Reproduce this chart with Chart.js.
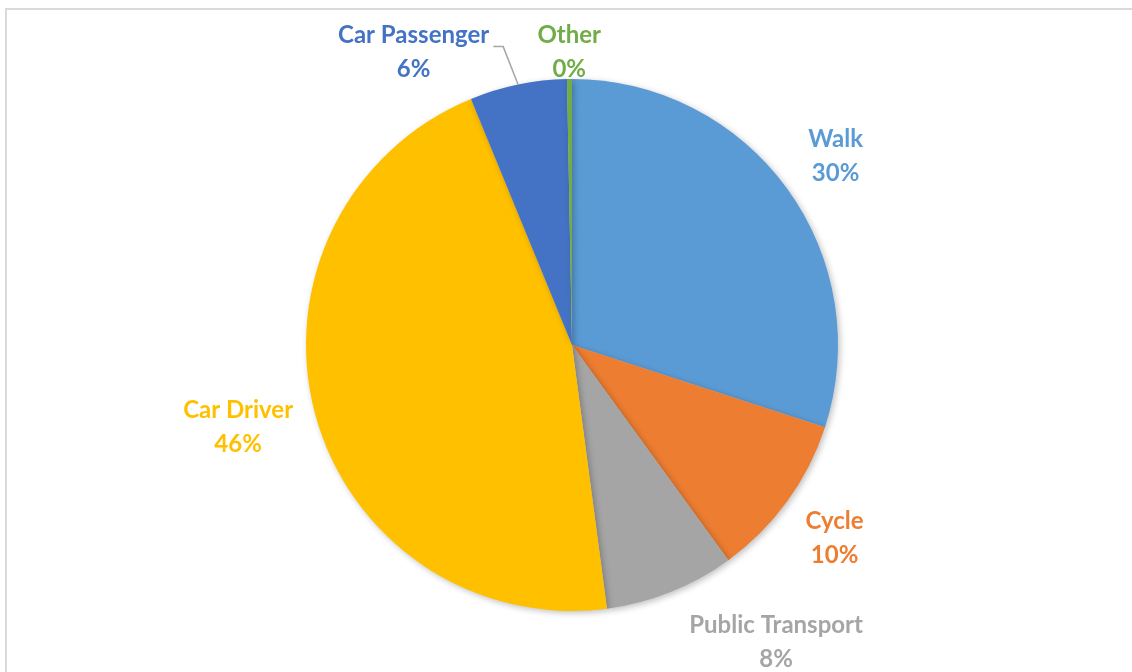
<!DOCTYPE html>
<html>
<head>
<meta charset="utf-8">
<script src="https://cdn.jsdelivr.net/npm/chart.js@4"></script>
<style>
  html, body { margin: 0; padding: 0; background: #fff; }
  #wrap { position: relative; width: 1132px; height: 672px; overflow: hidden; }
  #frame { position: absolute; left: 5px; top: 8px; width: 1140px; height: 680px; border: 2px solid #dadada; }
  #chart { position: absolute; left: 0; top: 0; }
</style>
</head>
<body>
<div id="wrap">
  <div id="frame"></div>
  <canvas id="chart" width="1132" height="672"></canvas>
</div>
<script>
// travel mode shares (percent)
const modes = ['Walk', 'Cycle', 'Public Transport', 'Car Driver', 'Car Passenger', 'Other'];
const shares = [30.0, 10.0, 7.9, 45.9, 5.9, 0.3];
const colours = ['#5B9BD5', '#ED7D31', '#A5A5A5', '#FFC000', '#4472C4', '#70AD47'];
const labelColours = ['#5B9BD5', '#ED7D31', '#A5A5A5', '#FFC000', '#4472C4', '#70AD47'];

// label placement: distance as fraction of radius, angle nudge in degrees
const labelDist = [1.225, 1.22, 1.345, 1.29, 1.26, 1.11];
const labelTurn = [0, 0, -13, 1.6, -16.5, 0];

const FONT = 'bold 24px Lato, "Open Sans", sans-serif';

const pieShadow = {
  id: 'pieShadow',
  beforeDatasetsDraw(chart) {
    const ctx = chart.ctx;
    ctx.save();
    ctx.shadowColor = 'rgba(0,0,0,0.25)';
    ctx.shadowBlur = 6;
    ctx.shadowOffsetX = 2;
    ctx.shadowOffsetY = 2;
  },
  afterDatasetsDraw(chart) {
    chart.ctx.restore();
  }
};

const sliceLabels = {
  id: 'sliceLabels',
  afterDatasetsDraw(chart) {
    const ctx = chart.ctx;
    const arcs = chart.getDatasetMeta(0).data;
    ctx.save();
    ctx.font = FONT;
    ctx.textAlign = 'center';
    ctx.textBaseline = 'middle';
    arcs.forEach((arc, i) => {
      const r = arc.outerRadius;
      const mid = (arc.startAngle + arc.endAngle) / 2;
      const a = mid + labelTurn[i] * Math.PI / 180;
      const cx = arc.x + Math.cos(a) * r * labelDist[i];
      const cy = arc.y + Math.sin(a) * r * labelDist[i];
      const pct = Math.round(shares[i]) + '%';
      ctx.fillStyle = labelColours[i];
      ctx.fillText(modes[i], cx, cy - 14);
      ctx.fillText(pct, cx, cy + 20);

      // leader line for the shifted Car Passenger label
      if (modes[i] === 'Car Passenger') {
        const w = ctx.measureText(modes[i]).width;
        const sx = cx + w / 2 + 4;
        const sy = cy - 3;
        const ex = arc.x + Math.cos(mid) * r;
        const ey = arc.y + Math.sin(mid) * r;
        ctx.strokeStyle = '#a6a6a6';
        ctx.lineWidth = 1.5;
        ctx.beginPath();
        ctx.moveTo(sx, sy);
        ctx.lineTo(sx + 10, sy);
        ctx.lineTo(ex, ey);
        ctx.stroke();
      }
    });
    ctx.restore();
  }
};

new Chart(document.getElementById('chart'), {
  type: 'pie',
  data: {
    labels: modes,
    datasets: [{
      data: shares,
      backgroundColor: colours,
      borderWidth: 0
    }]
  },
  options: {
    responsive: false,
    animation: false,
    layout: { padding: { top: 79, bottom: 61, left: 12, right: 0 } },
    plugins: {
      legend: { display: false },
      tooltip: { enabled: false }
    }
  },
  plugins: [pieShadow, sliceLabels]
});
</script>
</body>
</html>
